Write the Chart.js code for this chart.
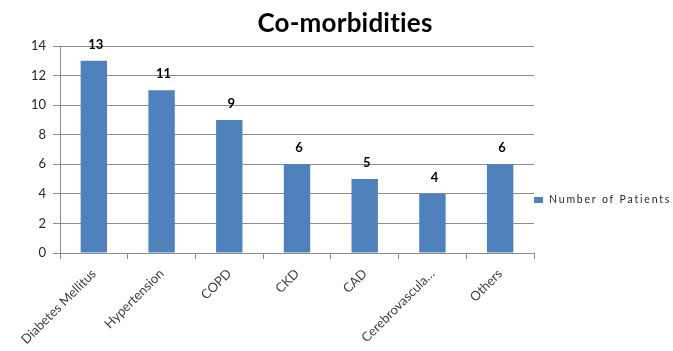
<!DOCTYPE html>
<html>
<head>
<meta charset="utf-8">
<script src="https://cdn.jsdelivr.net/npm/chart.js@4/dist/chart.umd.min.js"></script>
<style>
  html, body { margin: 0; padding: 0; background: #fff; }
  #wrap { width: 673px; height: 351px; position: relative; }
</style>
</head>
<body>
<div id="wrap"><canvas id="c" width="673" height="351"></canvas></div>
<script>
// Co-morbidities among patients
const categories = ["Diabetes Mellitus", "Hypertension", "COPD", "CKD", "CAD", "Cerebrovascula…", "Others"];
const patientCounts = [13, 11, 9, 6, 5, 4, 6];
const seriesName = "Number of Patients";
const yTicks = [0, 2, 4, 6, 8, 10, 12, 14];

const BAR_COLOR = "#4F81BD";
const GRID_COLOR = "#8C8C8C";
const FONT = "Lato, 'Open Sans', 'Liberation Sans', sans-serif";

// value labels above each bar
const valueLabels = {
  id: "valueLabels",
  afterDatasetsDraw(chart) {
    const ctx = chart.ctx;
    const meta = chart.getDatasetMeta(0);
    ctx.save();
    ctx.font = "bold 13px " + FONT;
    ctx.fillStyle = "#000";
    ctx.textAlign = "center";
    ctx.textBaseline = "alphabetic";
    meta.data.forEach((bar, i) => {
      ctx.fillText(String(chart.data.datasets[0].data[i]), bar.x + 2, bar.y - 12);
    });
    ctx.restore();
  }
};

// chart title and side legend
const titleAndLegend = {
  id: "titleAndLegend",
  afterDraw(chart) {
    const ctx = chart.ctx;
    const area = chart.chartArea;
    ctx.save();
    ctx.font = "bold 26px " + FONT;
    ctx.letterSpacing = "0.2px"; // also keeps "ti" from forming a ligature
    ctx.fillStyle = "#000";
    ctx.textAlign = "center";
    ctx.textBaseline = "alphabetic";
    ctx.fillText("Co-morbidities", 345, 32);

    const lx = area.right;
    const ly = 200;
    ctx.fillStyle = BAR_COLOR;
    ctx.fillRect(lx, ly - 3, 9, 6);
    ctx.font = "10.5px " + FONT;
    ctx.letterSpacing = "1.8px";
    ctx.fillStyle = "#262626";
    ctx.textAlign = "left";
    ctx.textBaseline = "middle";
    ctx.fillText(seriesName, lx + 15, ly);
    ctx.restore();
  }
};

new Chart(document.getElementById("c"), {
  type: "bar",
  data: {
    labels: categories,
    datasets: [{
      label: seriesName,
      data: patientCounts,
      backgroundColor: BAR_COLOR,
      borderWidth: 0,
      categoryPercentage: 1,
      barPercentage: 0.39
    }]
  },
  options: {
    responsive: false,
    animation: false,
    layout: { padding: { top: 46, right: 139, left: 0, bottom: 0 } },
    plugins: {
      legend: { display: false },
      title: { display: false },
      tooltip: { enabled: false }
    },
    scales: {
      x: {
        offset: true,
        grid: {
          offset: true,
          drawOnChartArea: false,
          color: GRID_COLOR,
          tickLength: 6,
          tickColor: GRID_COLOR
        },
        border: { color: GRID_COLOR },
        ticks: {
          minRotation: 45,
          maxRotation: 45,
          autoSkip: false,
          color: "#404040",
          font: { family: FONT, size: 13 },
          padding: 7
        },
        afterFit(scale) { scale.height = 98; }
      },
      y: {
        min: 0,
        max: 14,
        afterBuildTicks(scale) { scale.ticks = yTicks.map(v => ({ value: v })); },
        grid: {
          color: GRID_COLOR,
          tickLength: 7,
          tickColor: GRID_COLOR
        },
        border: { color: GRID_COLOR },
        ticks: {
          color: "#262626",
          font: { family: FONT, size: 13 },
          padding: 7
        },
        afterFit(scale) { scale.width = 60; }
      }
    }
  },
  plugins: [valueLabels, titleAndLegend]
});
</script>
</body>
</html>
